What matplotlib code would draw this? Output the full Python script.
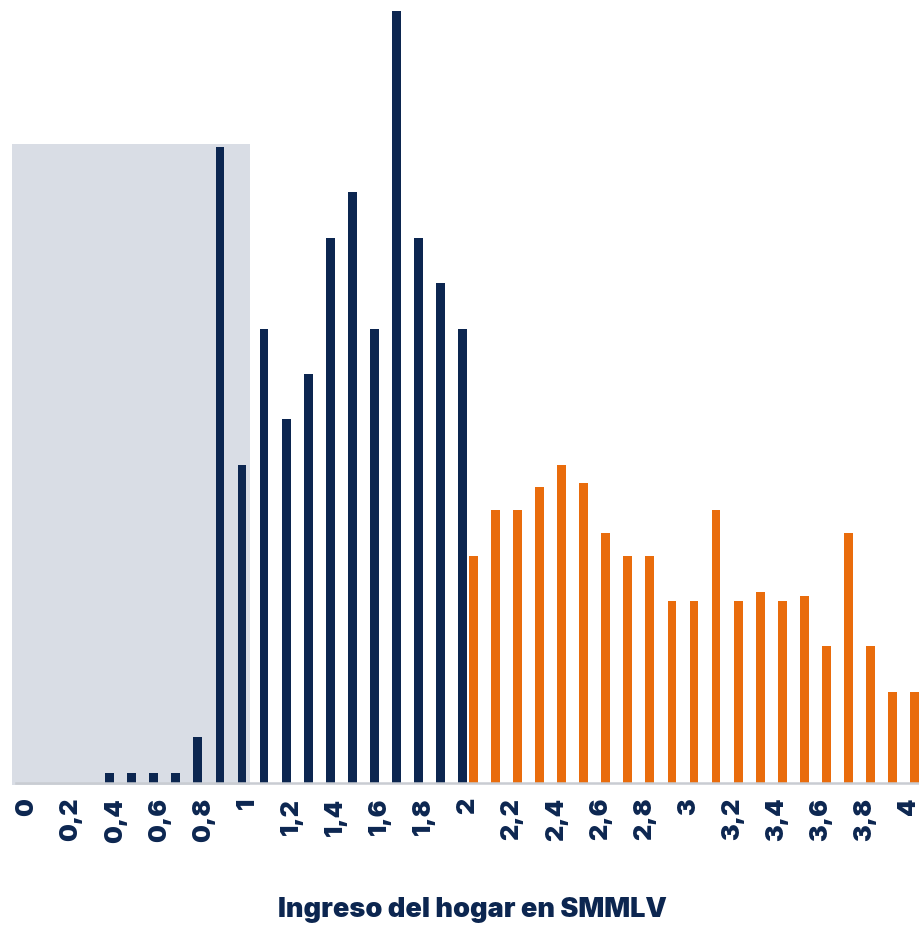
import matplotlib
matplotlib.use("Agg")

import numpy as np
import matplotlib.pyplot as plt
from matplotlib.patches import Rectangle

# Categorias: ingreso del hogar en SMMLV, de 0 a 4 en pasos de 0,1
categorias = [round(0.1 * i, 1) for i in range(41)]

# Serie azul (hasta 2 SMMLV)
serie_azul = [0, 0, 0, 0, 1, 1, 1, 1, 5, 70,
              35, 50, 40, 45, 60, 65, 50, 85, 60, 55,
              50, 0, 0, 0, 0, 0, 0, 0, 0, 0,
              0, 0, 0, 0, 0, 0, 0, 0, 0, 0, 0]

# Serie naranja (desde 2 SMMLV)
serie_naranja = [0, 0, 0, 0, 0, 0, 0, 0, 0, 0,
                 0, 0, 0, 0, 0, 0, 0, 0, 0, 0,
                 25, 30, 30, 32.5, 35, 33, 27.5, 25, 25, 20,
                 20, 30, 20, 21, 20, 20.5, 15, 27.5, 15, 10, 10]

etiquetas = [("%g" % c).replace(".", ",") if i % 2 == 0 else ""
             for i, c in enumerate(categorias)]

AZUL = "#0c2650"
NARANJA = "#e96c0c"
GRIS = "#d9dde5"

plt.rcParams["font.family"] = ["Inter", "DejaVu Sans"]

fig = plt.figure(figsize=(9.2, 9.26), dpi=100)
ax = fig.add_axes([16 / 920, (926 - 782.5) / 926, 904 / 920, 782.5 / 926])

x = np.arange(len(categorias))
ancho = 0.4
desplaz = 0.25

# zona sombreada (ingresos hasta ~1 SMMLV)
ax.add_patch(Rectangle((-0.68, -0.3), 10.79, 70.6, facecolor=GRIS,
                       edgecolor="none", zorder=0, clip_on=False))

ax.bar(x - desplaz, serie_azul, width=ancho, color=AZUL, zorder=2)
ax.bar(x + desplaz, serie_naranja, width=ancho, color=NARANJA, zorder=2)

ax.set_xlim(-0.5, 40.5)
ax.set_ylim(0, 86.2)

ax.set_xticks(x)
ax.set_xticklabels(etiquetas, rotation=90, fontsize=18, fontweight="black",
                   color=AZUL)
ax.tick_params(axis="x", length=0, pad=11)
ax.set_yticks([])

for lado in ["top", "right", "left"]:
    ax.spines[lado].set_visible(False)
ax.spines["bottom"].set_color("#c9ccd2")
ax.spines["bottom"].set_linewidth(1.8)
ax.spines["bottom"].set_zorder(3)

fig.text(472 / 920, 9 / 926, "Ingreso del hogar en SMMLV", ha="center",
         va="baseline", fontsize=19.5, fontweight="black", color=AZUL)

fig.savefig("out.png", dpi=100)
